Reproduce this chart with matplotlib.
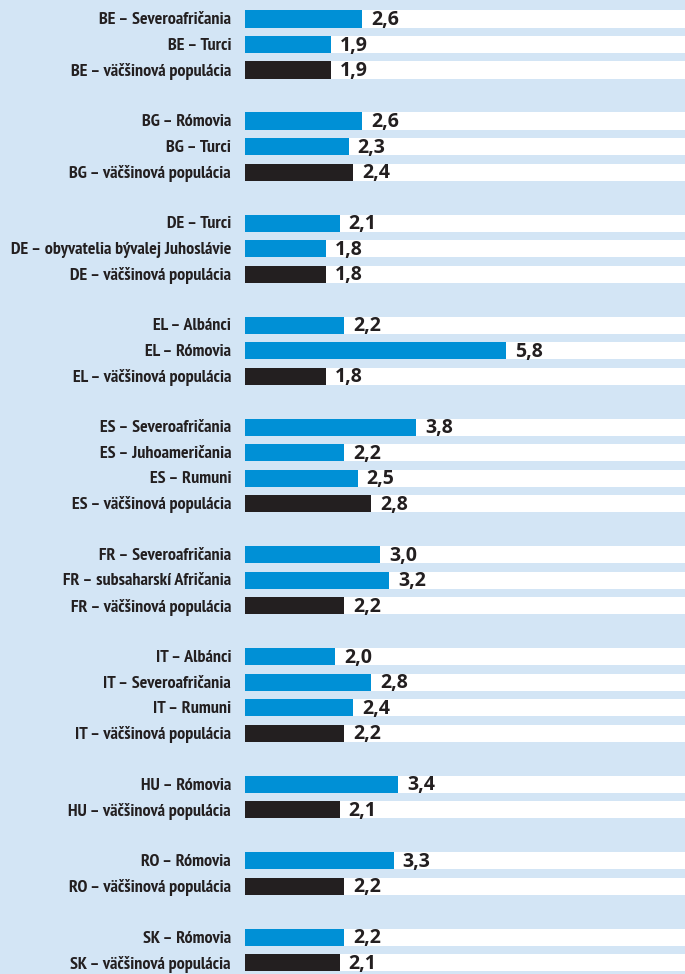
import matplotlib.pyplot as plt

# skupiny podľa krajín, posledná položka = väčšinová populácia
groups = [
    ["BE – Severoafričania", "BE – Turci", "BE – väčšinová populácia"],
    ["BG – Rómovia", "BG – Turci", "BG – väčšinová populácia"],
    ["DE – Turci", "DE – obyvatelia bývalej Juhoslávie", "DE – väčšinová populácia"],
    ["EL – Albánci", "EL – Rómovia", "EL – väčšinová populácia"],
    ["ES – Severoafričania", "ES – Juhoameričania", "ES – Rumuni", "ES – väčšinová populácia"],
    ["FR – Severoafričania", "FR – subsaharskí Afričania", "FR – väčšinová populácia"],
    ["IT – Albánci", "IT – Severoafričania", "IT – Rumuni", "IT – väčšinová populácia"],
    ["HU – Rómovia", "HU – väčšinová populácia"],
    ["RO – Rómovia", "RO – väčšinová populácia"],
    ["SK – Rómovia", "SK – väčšinová populácia"],
]
group_values = [
    [2.6, 1.9, 1.9],
    [2.6, 2.3, 2.4],
    [2.1, 1.8, 1.8],
    [2.2, 5.8, 1.8],
    [3.8, 2.2, 2.5, 2.8],
    [3.0, 3.2, 2.2],
    [2.0, 2.8, 2.4, 2.2],
    [3.4, 2.1],
    [3.3, 2.2],
    [2.2, 2.1],
]

BG = "#d3e5f5"
BLUE = "#0090d6"
BLACK = "#231f20"

W, H = 685, 974
fig = plt.figure(figsize=(W / 100, H / 100), dpi=100)
fig.patch.set_facecolor(BG)

pitch = 25.51
y0 = 19
xmax = 440 / 45
ax = fig.add_axes([245 / W, 0, 440 / W, 1])
ax.set_facecolor(BG)
ax.set_xlim(0, xmax)
ax.set_ylim((H - y0) / pitch, -y0 / pitch)
ax.axis("off")

pos = 0
for labs, vals in zip(groups, group_values):
    for i, (lab, v) in enumerate(zip(labs, vals)):
        col = BLACK if i == len(labs) - 1 else BLUE
        ax.barh(pos, xmax, height=0.67, color="white", zorder=1)
        ax.barh(pos, v, height=0.67, color=col, zorder=2)
        ax.text(v + 0.2, pos + 0.04, f"{v:.1f}".replace(".", ","), va="center", ha="left",
                fontsize=14, fontweight="bold", color=BLACK,
                family=["Open Sans", "DejaVu Sans"], zorder=3)
        ax.text(-14 / 45, pos + 0.05, lab, va="center", ha="right", fontsize=13,
                fontweight="bold", color=BLACK,
                family=["PT Sans Narrow", "DejaVu Sans"], clip_on=False)
        pos += 1
    pos += 1

fig.savefig("out.png", dpi=100, facecolor=BG)
